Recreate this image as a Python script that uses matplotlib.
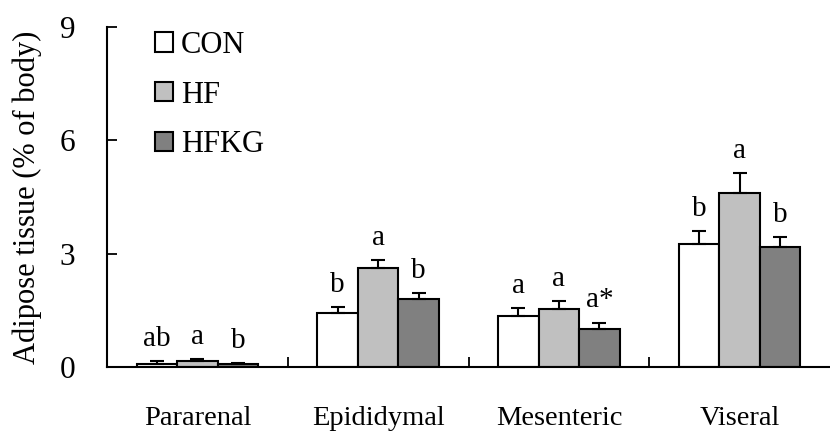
import numpy as np
import matplotlib
matplotlib.use("Agg")
from matplotlib import pyplot as plt

plt.rcParams['font.family'] = ['Liberation Serif', 'DejaVu Serif']

#Datos.
categories = ['Pararenal', 'Epididymal', 'Mesenteric', 'Viseral']
groups = ['CON', 'HF', 'HFKG']
con = [0.09, 1.42, 1.36, 3.25]
hf = [0.15, 2.63, 1.53, 4.61]
hfkg = [0.08, 1.80, 1.02, 3.17]
con_err = [0.06, 0.16, 0.21, 0.35]
hf_err = [0.07, 0.20, 0.22, 0.53]
hfkg_err = [0.02, 0.16, 0.16, 0.28]
con_lab = ['ab', 'b', 'a', 'b']
hf_lab = ['a', 'a', 'a', 'a']
hfkg_lab = ['b', 'b', 'a*', 'b']

colors = ['white', '#c0c0c0', '#808080']
values = [con, hf, hfkg]
errors = [con_err, hf_err, hfkg_err]
labels = [con_lab, hf_lab, hfkg_lab]

fig = plt.figure(figsize=(8.3, 4.36), dpi=100)
ax = fig.add_axes([0.129, 0.158, 0.871, 0.78])

x = np.arange(len(categories)) + 0.5
w = 0.224
for i in range(3):
    pos = x + (i - 1) * w
    ax.bar(pos, values[i], w, color=colors[i], edgecolor='black', linewidth=1.5,
           label=groups[i], zorder=2)
    ax.errorbar(pos, values[i], yerr=[np.zeros(4), errors[i]], fmt='none',
                ecolor='black', elinewidth=1.5, capsize=5, capthick=1.5, zorder=3)
    #Letras de significancia encima de cada barra.
    for p, v, e, t in zip(pos, values[i], errors[i], labels[i]):
        ax.text(p, v + e + 0.4, t, ha='center', va='baseline', fontsize=21)

ax.set_xlim(0, 4)
ax.set_ylim(0, 9)
ax.set_yticks([0, 3, 6, 9])
ax.set_xticks(x)
ax.set_xticklabels(categories, fontsize=20.5)
ax.set_xticks([1, 2, 3], minor=True)
ax.tick_params(axis='x', which='major', length=0, pad=28)
ax.tick_params(axis='x', which='minor', direction='in', length=7, width=1.3)
ax.tick_params(axis='y', direction='in', length=7, width=1.3, labelsize=22.5, pad=23)
ax.set_ylabel('Adipose tissue (% of body)', fontsize=22)
ax.yaxis.set_label_coords(-0.09, 0.5)

for s in ['top', 'right']:
    ax.spines[s].set_visible(False)
for s in ['left', 'bottom']:
    ax.spines[s].set_linewidth(1.5)

ax.legend(loc='upper left', bbox_to_anchor=(0.028, 1.07), frameon=False, fontsize=22,
          handlelength=0.6, handleheight=0.6, handletextpad=0.25, labelspacing=0.68)

plt.savefig('out.png', dpi=100)
